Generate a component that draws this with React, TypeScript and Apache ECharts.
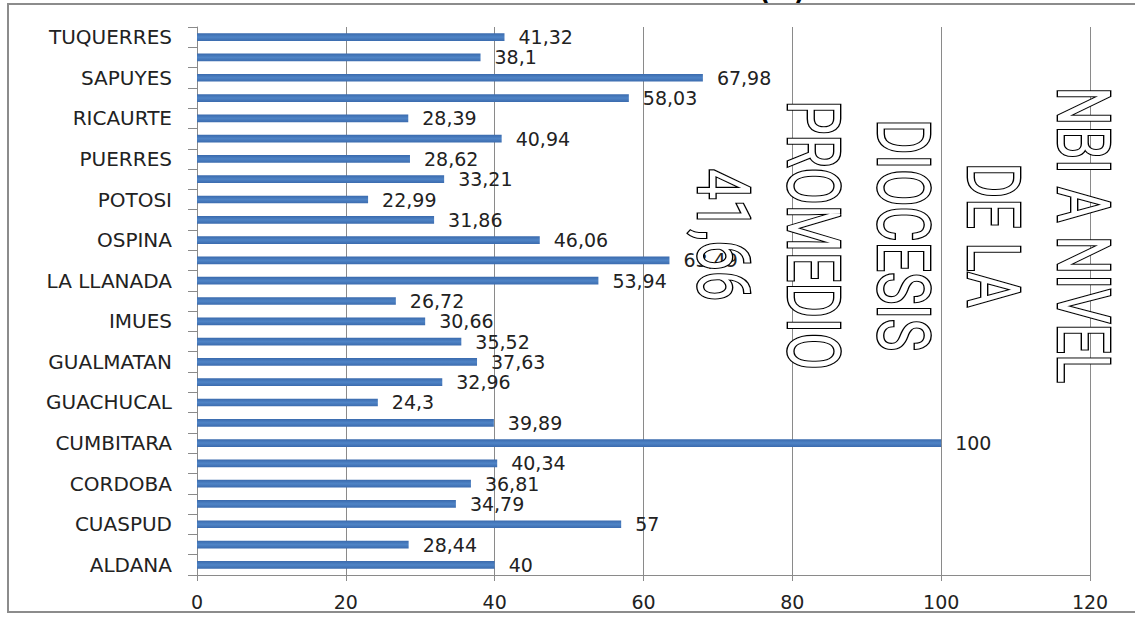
import React, { useEffect, useRef } from "react";
import * as echarts from "echarts";

// Categories from bottom (index 0) to top
const categories = [
  "ALDANA", "CONTADERO", "CUASPUD", "CUMBAL", "CORDOBA", "FUNES", "CUMBITARA",
  "GUAITARILLA", "GUACHUCAL", "ILES", "GUALMATAN", "IPIALES", "IMUES", "LOS ANDES",
  "LA LLANADA", "MALLAMA", "OSPINA", "PROVIDENCIA", "POTOSI", "PUPIALES", "PUERRES",
  "SAMANIEGO", "RICAURTE", "SANTACRUZ", "SAPUYES", "SAN PEDRO", "TUQUERRES",
];
const values = [
  40, 28.44, 57, 34.79, 36.81, 40.34, 100, 39.89, 24.3, 32.96, 37.63, 35.52, 30.66,
  26.72, 53.94, 63.49, 46.06, 31.86, 22.99, 33.21, 28.62, 40.94, 28.39, 58.03, 67.98,
  38.1, 41.32,
];
const xTicks = { min: 0, max: 120, interval: 20 };
const overlayLines = ["NBI A NIVEL", "DE LA", "DIOCESIS", "PROMEDIO", "41,66"];
const titleText = "(%)";

export default function App() {
  const ref = useRef<HTMLDivElement>(null);
  useEffect(() => {
    if (!ref.current) return;
    const chart = echarts.init(ref.current, null, { renderer: "svg" });
    const font = "DejaVu Sans";
    chart.setOption({
      animation: false,
      backgroundColor: "#ffffff",
      grid: { left: 197, right: 45, top: 27, bottom: 47 },
      xAxis: {
        type: "value",
        min: xTicks.min,
        max: xTicks.max,
        interval: xTicks.interval,
        axisLine: { show: true, lineStyle: { color: "#8a8a8a", width: 1 } },
        axisTick: { show: true, length: 6, lineStyle: { color: "#8a8a8a" } },
        splitLine: { show: true, lineStyle: { color: "#8a8a8a", width: 1 } },
        axisLabel: { color: "#222", fontFamily: font, fontSize: 19, margin: 17 },
      },
      yAxis: {
        type: "category",
        data: categories,
        axisLine: { show: true, lineStyle: { color: "#8a8a8a", width: 1 } },
        axisTick: { show: true, interval: 0, length: 9, lineStyle: { color: "#8a8a8a" } },
        axisLabel: { interval: 1, color: "#222", fontFamily: font, fontSize: 20, margin: 25 },
        splitLine: { show: false },
      },
      series: [
        {
          type: "bar",
          data: values,
          barWidth: "38%",
          itemStyle: {
            color: new echarts.graphic.LinearGradient(0, 0, 0, 1, [
              { offset: 0, color: "#3a6aad" },
              { offset: 0.5, color: "#4f84c6" },
              { offset: 1, color: "#3b6bae" },
            ]),
          },
          label: {
            show: true,
            position: "right",
            distance: 14,
            color: "#222",
            fontFamily: font,
            fontSize: 19,
            formatter: (p: any) => String(p.value).replace(".", ","),
          },
        },
      ],
      graphic: [
        {
          type: "text",
          x: 782,
          y: 4,
          z: 10,
          style: {
            text: titleText,
            fill: "#000",
            fontFamily: font,
            fontSize: 24,
            fontWeight: "bold",
            align: "center",
            verticalAlign: "bottom",
          },
        },
        {
          type: "rect",
          z: 11,
          shape: { x: 8, y: 4, width: 1140, height: 608 },
          style: { fill: "none", stroke: "#8c8c8c", lineWidth: 2 },
        },
        {
          type: "text",
          x: 903,
          y: 235,
          rotation: -Math.PI / 2,
          scaleX: 0.74,
          scaleY: 1,
          z: 20,
          style: {
            text: overlayLines.join("\n"),
            fill: "#ffffff",
            stroke: "#000000",
            lineWidth: 2.8,
            fontFamily: "Roboto",
            fontSize: 73,
            lineHeight: 90,
            align: "center",
            verticalAlign: "middle",
            shadowBlur: 5,
            shadowColor: "rgba(0,0,0,0.5)",
          },
        },
      ],
    });
    return () => chart.dispose();
  }, []);
  return (
    <div
      ref={ref}
      style={{ position: "fixed", left: 0, top: 0, width: 1135, height: 622 }}
    />
  );
}
